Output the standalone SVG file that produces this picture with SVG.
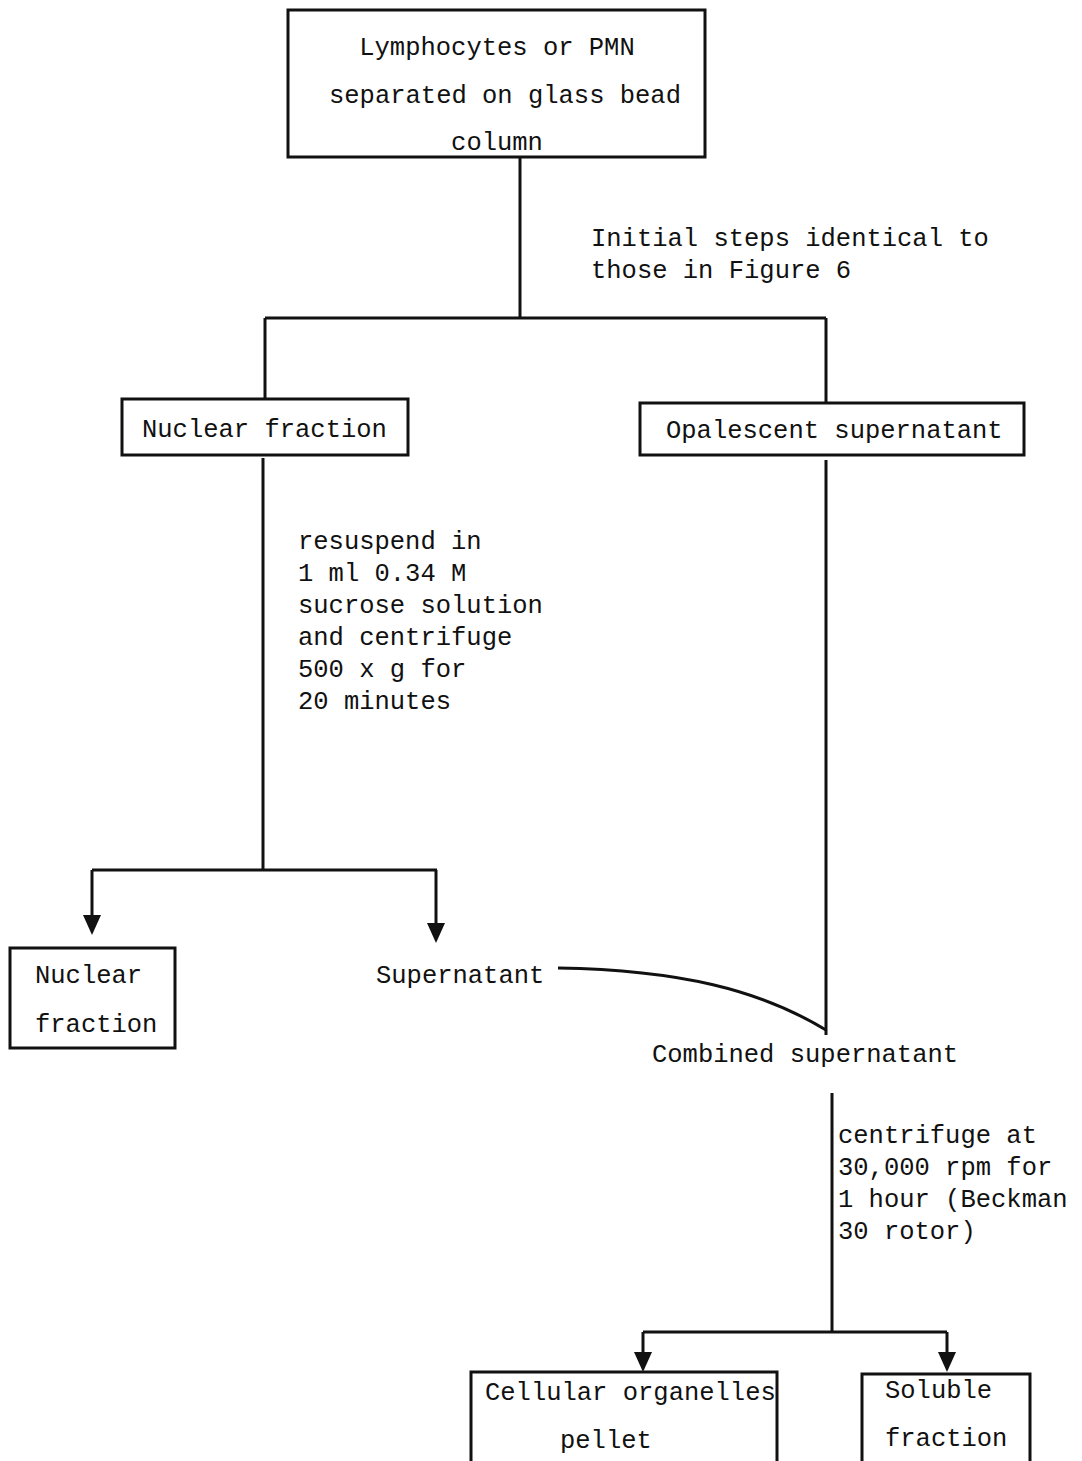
<svg xmlns="http://www.w3.org/2000/svg" width="1082" height="1461" viewBox="0 0 1082 1461">
<style>
text{font-family:"Liberation Mono","DejaVu Sans Mono",monospace;font-size:25.5px;fill:#111}
.box{fill:none;stroke:#111;stroke-width:3}
.ln{fill:none;stroke:#111;stroke-width:3}
</style>
<defs>
<marker id="ah" markerWidth="18" markerHeight="20" refX="9" refY="20" orient="auto-start-reverse" markerUnits="userSpaceOnUse" viewBox="0 0 18 20">
<path d="M0,0 L18,0 L9,20 Z" fill="#111"/>
</marker>
</defs>
<rect width="1082" height="1461" fill="#fff"/>
<g id="connectors">
<path class="ln" d="M520,157 V318"/>
<path class="ln" d="M265,318 H826"/>
<path class="ln" d="M265,318 V400"/>
<path class="ln" d="M826,318 V403"/>
<path class="ln" d="M263,458 V870"/>
<path class="ln" d="M92,870 H437"/>
<path d="M92,870 V917" class="ln"/>
<path d="M83,915 L101,915 L92,935 Z" fill="#111"/>
<path d="M436,870 V925" class="ln"/>
<path d="M427,923 L445,923 L436,943 Z" fill="#111"/>
<path class="ln" d="M826,460 V1035"/>
<path class="ln" d="M558,968 C680,970 760,990 826,1030"/>
<path class="ln" d="M832,1093 V1332"/>
<path class="ln" d="M643,1332 H947"/>
<path d="M643,1332 V1356" class="ln"/>
<path d="M634,1352 L652,1352 L643,1372 Z" fill="#111"/>
<path d="M947,1332 V1356" class="ln"/>
<path d="M938,1352 L956,1352 L947,1372 Z" fill="#111"/>
</g>
<g id="node-top">
<rect class="box" x="288" y="10" width="417" height="147"/>
<text x="497" y="55" text-anchor="middle">Lymphocytes or PMN</text>
<text x="505" y="103" text-anchor="middle">separated on glass bead</text>
<text x="497" y="150" text-anchor="middle">column</text>
</g>
<g id="label-initial">
<text x="591" y="246">Initial steps identical to</text>
<text x="591" y="278">those in Figure 6</text>
</g>
<g id="node-nuclear1">
<rect class="box" x="122" y="399" width="286" height="56"/>
<text x="142" y="437">Nuclear fraction</text>
</g>
<g id="node-opalescent">
<rect class="box" x="640" y="403" width="384" height="52"/>
<text x="666" y="438">Opalescent supernatant</text>
</g>
<g id="label-resuspend">
<text x="298" y="549">resuspend in</text>
<text x="298" y="581">1 ml 0.34 M</text>
<text x="298" y="613">sucrose solution</text>
<text x="298" y="645">and centrifuge</text>
<text x="298" y="677">500 x g for</text>
<text x="298" y="709">20 minutes</text>
</g>
<g id="node-nuclear2">
<rect class="box" x="10" y="948" width="165" height="100"/>
<text x="35" y="983">Nuclear</text>
<text x="35" y="1032">fraction</text>
</g>
<g id="node-supernatant">
<text x="376" y="983">Supernatant</text>
</g>
<g id="node-combined">
<text x="652" y="1062">Combined supernatant</text>
</g>
<g id="label-centrifuge">
<text x="838" y="1143">centrifuge at</text>
<text x="838" y="1175">30,000 rpm for</text>
<text x="838" y="1207">1 hour (Beckman</text>
<text x="838" y="1239">30 rotor)</text>
</g>
<g id="node-pellet">
<rect class="box" x="471" y="1372" width="306" height="95"/>
<text x="485" y="1400">Cellular organelles</text>
<text x="560" y="1448">pellet</text>
</g>
<g id="node-soluble">
<rect class="box" x="862" y="1374" width="168" height="93"/>
<text x="885" y="1398">Soluble</text>
<text x="885" y="1446">fraction</text>
</g>
</svg>
